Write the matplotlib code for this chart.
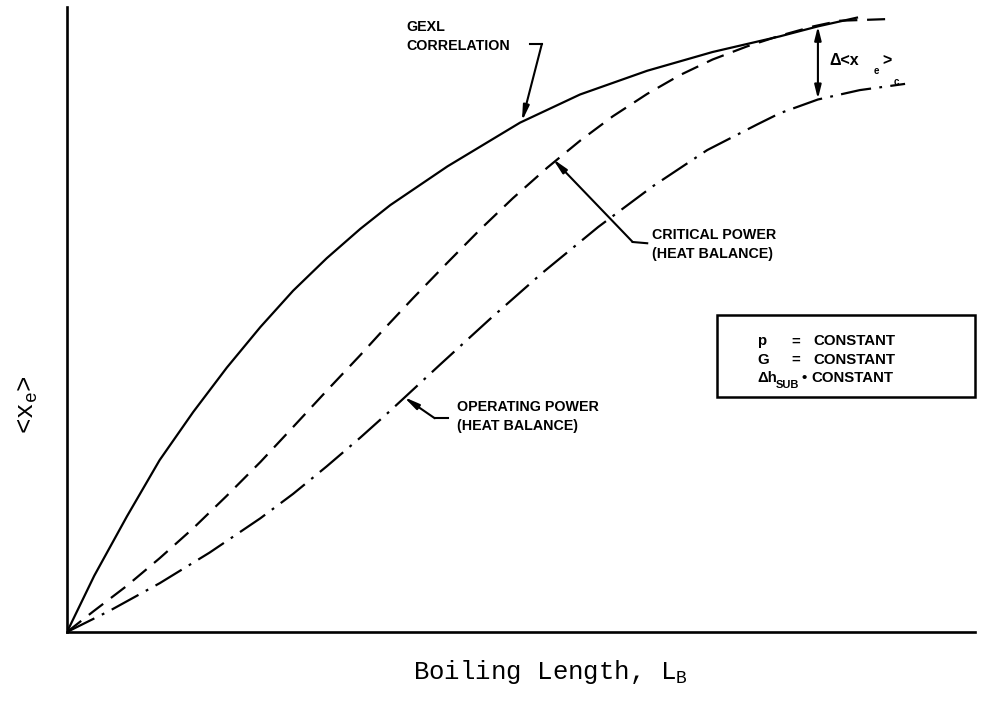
import matplotlib
matplotlib.use("Agg")
import matplotlib.pyplot as plt
from matplotlib.patches import Rectangle

plt.rcParams['lines.scale_dashes'] = False
plt.rcParams['mathtext.fontset'] = 'custom'
plt.rcParams['mathtext.rm'] = 'Liberation Mono'
plt.rcParams['mathtext.it'] = 'Liberation Mono'
plt.rcParams['mathtext.sf'] = 'Liberation Sans:bold'

# ---- data (normalised boiling length, normalised <x_e>) ----
gexl_x = [0.0, 0.030, 0.066, 0.102, 0.139, 0.176, 0.213, 0.249, 0.286, 0.323,
          0.356, 0.419, 0.499, 0.565, 0.639, 0.711, 0.785, 0.827, 0.870]
gexl_y = [0.0, 0.090, 0.185, 0.275, 0.352, 0.423, 0.488, 0.546, 0.598, 0.645,
          0.683, 0.745, 0.815, 0.860, 0.898, 0.928, 0.953, 0.969, 0.983]

crit_x = [0.0, 0.029, 0.066, 0.102, 0.139, 0.176, 0.213, 0.249, 0.286, 0.323,
          0.350, 0.381, 0.419, 0.455, 0.491, 0.529, 0.565, 0.601, 0.639, 0.675,
          0.711, 0.749, 0.785, 0.822, 0.851, 0.910]
crit_y = [0.0, 0.033, 0.074, 0.118, 0.166, 0.218, 0.272, 0.328, 0.386, 0.443,
          0.486, 0.534, 0.591, 0.644, 0.694, 0.743, 0.786, 0.825, 0.861, 0.891,
          0.916, 0.937, 0.954, 0.969, 0.978, 0.981]

oper_x = [0.0, 0.047, 0.102, 0.157, 0.213, 0.249, 0.286, 0.323, 0.356, 0.411,
          0.466, 0.523, 0.585, 0.645, 0.705, 0.760, 0.785, 0.827, 0.873, 0.923]
oper_y = [0.0, 0.034, 0.078, 0.127, 0.182, 0.221, 0.265, 0.311, 0.354, 0.428,
          0.501, 0.574, 0.648, 0.713, 0.771, 0.812, 0.830, 0.852, 0.867, 0.877]

xlabel = "Boiling Length, L$_\\mathrm{B}$"
ylabel = "<x$_\\mathrm{e}$>"
gexl_label = "GEXL\nCORRELATION"
crit_label = "CRITICAL POWER\n(HEAT BALANCE)"
oper_label = "OPERATING POWER\n(HEAT BALANCE)"
const_names = ["p", "G", "Δh"]
const_text = "CONSTANT"

fig = plt.figure(figsize=(9.81, 7.06), dpi=100)
ax = fig.add_axes([67/981, (706-632)/706, 908/981, 625/706])
ax.set_xlim(0, 1)
ax.set_ylim(0, 1)
for s in ['top', 'right']:
    ax.spines[s].set_visible(False)
for s in ['left', 'bottom']:
    ax.spines[s].set_linewidth(1.9)
ax.set_xticks([])
ax.set_yticks([])

lw = 1.6
ax.plot(gexl_x, gexl_y, color='black', lw=lw, solid_joinstyle='round')
ax.plot(crit_x, crit_y, color='black', lw=lw, linestyle=(0, (13, 7)))
ax.plot(oper_x, oper_y, color='black', lw=lw, linestyle=(0, (22, 6, 2, 6)))

mono = 'Liberation Mono'
fig.text(550/981, 1-(672/706), xlabel, family=mono, fontsize=18.5,
         ha='center', va='center')
fig.text(28/981, 1-(405/706), ylabel, family=mono, fontsize=18.5,
         rotation=90, ha='center', va='center')

lab = dict(family='Liberation Sans', fontweight='bold', fontsize=10.3,
           linespacing=1.45, color='black')
arrowp = dict(arrowstyle='-|>,head_length=0.9,head_width=0.18', lw=1.5,
              color='black', shrinkA=0, shrinkB=0)

# GEXL correlation label and leader
ax.text(0.374, 0.953, gexl_label, ha='left', va='center', **lab)
ax.plot([0.510, 0.523], [0.941, 0.941], color='black', lw=1.5)
ax.annotate('', xy=(0.501, 0.817), xytext=(0.523, 0.941), arrowprops=arrowp)

# Critical power label and leader
ax.text(0.644, 0.620, crit_label, ha='left', va='center', **lab)
ax.plot([0.623, 0.639], [0.624, 0.622], color='black', lw=1.5)
ax.annotate('', xy=(0.535, 0.757), xytext=(0.623, 0.624), arrowprops=arrowp)

# Operating power label and leader
ax.text(0.430, 0.345, oper_label, ha='left', va='center', **lab)
ax.plot([0.405, 0.420], [0.342, 0.342], color='black', lw=1.5)
ax.annotate('', xy=(0.371, 0.376), xytext=(0.405, 0.342), arrowprops=arrowp)

# Delta <x_e>_c double arrow
darrow = dict(arrowstyle='<|-|>,head_length=0.8,head_width=0.2', lw=1.5,
              color='black', shrinkA=0, shrinkB=0)
ax.annotate('', xy=(0.827, 0.969), xytext=(0.827, 0.853), arrowprops=darrow)
big = {**lab, 'fontsize': 11.5}
small = {**lab, 'fontsize': 7}
ax.text(0.840, 0.915, "Δ<x", ha='left', va='center', **big)
ax.text(0.888, 0.898, "e", ha='left', va='center', **small)
ax.text(0.898, 0.915, ">", ha='left', va='center', **big)
ax.text(0.910, 0.880, "c", ha='left', va='center', **small)

# constants box
ax.add_patch(Rectangle((0.716, 0.376), 0.284, 0.131, fill=False,
                       edgecolor='black', lw=1.8, clip_on=False))
leg = {**lab, 'fontsize': 10.8}
rows_y = [0.465, 0.436, 0.407]
for name, yy, sym in zip(const_names, rows_y, ["=", "=", "•"]):
    ax.text(0.760, yy, name, ha='left', va='center', **leg)
    sx = 0.803 if sym == "=" else 0.812
    ax.text(sx, yy, sym, ha='center', va='center', **leg)
    cx = 0.822 if sym == "=" else 0.820
    ax.text(cx, yy, const_text, ha='left', va='center', **leg)
ax.text(0.781, 0.396, "SUB", ha='left', va='center',
        **{**lab, 'fontsize': 8})

fig.savefig("out.png", dpi=100)
